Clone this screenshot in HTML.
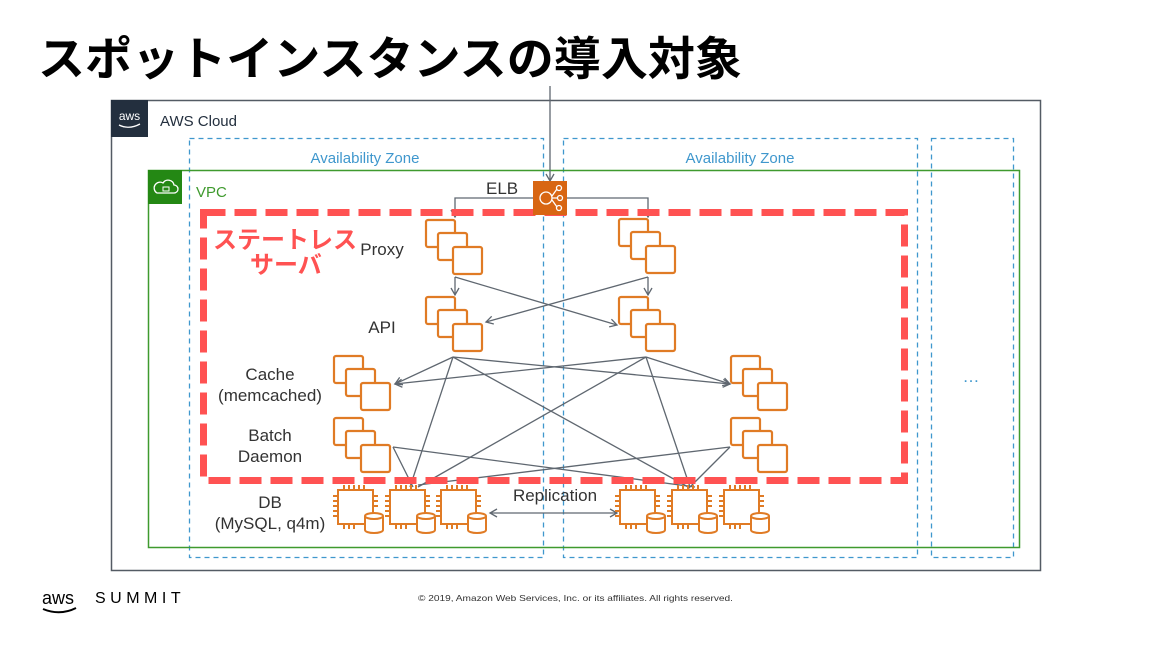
<!DOCTYPE html>
<html><head><meta charset="utf-8"><style>
body{margin:0;background:#fff;width:1152px;height:648px;overflow:hidden}
svg{display:block}
text{font-family:"Liberation Sans","Noto Sans CJK JP",sans-serif}
</style></head><body>
<svg width="1152" height="648" viewBox="0 0 1152 648" xmlns="http://www.w3.org/2000/svg">
<defs>
<marker id="ar" markerWidth="10" markerHeight="10" refX="8" refY="5" orient="auto" markerUnits="userSpaceOnUse">
<path d="M1,1 L8,5 L1,9" fill="none" stroke="#5f6770" stroke-width="1.3"/></marker>
<marker id="ars" markerWidth="10" markerHeight="10" refX="2" refY="5" orient="auto" markerUnits="userSpaceOnUse">
<path d="M9,1 L2,5 L9,9" fill="none" stroke="#5f6770" stroke-width="1.3"/></marker>
<g id="stk" fill="#fff" stroke="#e07b25" stroke-width="2.2">
<rect x="0" y="0" width="29" height="27" rx="2"/>
<rect x="12" y="13" width="29" height="27" rx="2"/>
<rect x="27" y="27" width="29" height="27" rx="2"/>
</g>
<g id="chip" fill="none" stroke="#e07b25" stroke-width="2">
<rect x="0" y="0" width="35" height="34" fill="#fff"/>
<path d="M6,0v-5M11,0v-5M16,0v-5M21,0v-5M26,0v-5M0,6h-5M0,11h-5M0,16h-5M0,21h-5M0,26h-5M35,6h5M35,11h5M35,16h5M6,34v5M11,34v5M16,34v5"/>
<path d="M27,26 v14 a9,3 0 0 0 18,0 v-14" fill="#fff"/>
<ellipse cx="36" cy="26" rx="9" ry="3" fill="#fff"/>
</g>
</defs>

<text x="38" y="75" font-size="46" font-weight="bold" fill="#000" textLength="704" lengthAdjust="spacingAndGlyphs">スポットインスタンスの導入対象</text>

<!-- AWS Cloud -->
<rect x="111.5" y="100.5" width="929" height="470" fill="none" stroke="#545b64" stroke-width="1.5"/>
<rect x="111" y="100" width="37" height="37" fill="#232f3e"/>
<text x="129.5" y="120" font-size="12" fill="#fff" text-anchor="middle">aws</text>
<path d="M119,125 q10,5 21,-1" stroke="#fff" fill="none" stroke-width="1.3"/>
<text x="160" y="126" font-size="15" fill="#232f3e">AWS Cloud</text>

<!-- AZ -->
<g fill="none" stroke="#3f97cd" stroke-width="1.3" stroke-dasharray="5,4">
<rect x="189.5" y="138.5" width="354" height="419"/>
<rect x="563.5" y="138.5" width="354" height="419"/>
<rect x="931.5" y="138.5" width="82" height="419"/>
</g>
<text x="365" y="163" font-size="15" fill="#3f97cd" text-anchor="middle">Availability Zone</text>
<text x="740" y="163" font-size="15" fill="#3f97cd" text-anchor="middle">Availability Zone</text>
<text x="971" y="382" font-size="17" fill="#3f97cd" text-anchor="middle">…</text>

<!-- VPC -->
<rect x="148.5" y="170.5" width="871" height="377" fill="none" stroke="#3f9a2e" stroke-width="1.5"/>
<rect x="148" y="170" width="34" height="34" fill="#248814"/>
<path d="M157,193 h17 a4,4 0 0 0 0,-8 a6,6 0 0 0 -11,-2 a4,4 0 0 0 -6,10z" fill="none" stroke="#fff" stroke-width="1.3"/>
<rect x="163" y="187" width="6" height="4" fill="none" stroke="#fff" stroke-width="1"/>
<text x="196" y="197" font-size="15" fill="#3f9a2e">VPC</text>

<!-- lines -->
<g stroke="#5f6770" stroke-width="1.3" fill="none">
<path d="M550,86 V181" marker-end="url(#ar)"/>
<path d="M533,198 H455 V217" marker-end="url(#ar)"/>
<path d="M567,198 H648 V217" marker-end="url(#ar)"/>
<path d="M455,277 V295" marker-end="url(#ar)"/>
<path d="M648,277 V295" marker-end="url(#ar)"/>
<path d="M455,277 L617,325" marker-end="url(#ar)"/>
<path d="M648,277 L486,322" marker-end="url(#ar)"/>
<path d="M453,357 L395,384" marker-end="url(#ar)"/>
<path d="M453,357 L730,384" marker-end="url(#ar)"/>
<path d="M646,357 L395,384" marker-end="url(#ar)"/>
<path d="M646,357 L730,384" marker-end="url(#ar)"/>
<path d="M453,357 L410,487"/>
<path d="M453,357 L690,488"/>
<path d="M646,357 L418,487"/>
<path d="M646,357 L690,487"/>
<path d="M393,447 L413,487"/>
<path d="M393,447 L695,487"/>
<path d="M730,447 L418,485"/>
<path d="M730,447 L690,487"/>
<path d="M490,513 H617" marker-start="url(#ars)" marker-end="url(#ar)"/>
</g>

<!-- red stateless -->
<rect x="203.5" y="212.5" width="701" height="268" fill="none" stroke="#ff5252" stroke-width="7" stroke-dasharray="22,9"/>
<text x="213" y="248" font-size="24" font-weight="bold" fill="#ff5252">ステートレス</text>
<text x="250" y="273" font-size="24" font-weight="bold" fill="#ff5252">サーバ</text>

<!-- ELB -->
<rect x="533" y="181" width="34" height="34" fill="#d86613"/>
<g stroke="#fff" fill="none" stroke-width="1.3">
<circle cx="546" cy="198" r="6"/><circle cx="559" cy="188" r="2.5"/><circle cx="560" cy="198" r="2.5"/><circle cx="559" cy="208" r="2.5"/>
<path d="M552,196 L557,189 M552,198 H558 M552,200 L557,207"/>
</g>
<text x="486" y="194" font-size="17" fill="#333">ELB</text>

<!-- stacks -->
<use href="#stk" x="426" y="220"/>
<use href="#stk" x="619" y="219"/>
<use href="#stk" x="426" y="297"/>
<use href="#stk" x="619" y="297"/>
<use href="#stk" x="334" y="356"/>
<use href="#stk" x="731" y="356"/>
<use href="#stk" x="334" y="418"/>
<use href="#stk" x="731" y="418"/>

<!-- DB chips -->
<use href="#chip" x="338" y="490"/>
<use href="#chip" x="390" y="490"/>
<use href="#chip" x="441" y="490"/>
<use href="#chip" x="620" y="490"/>
<use href="#chip" x="672" y="490"/>
<use href="#chip" x="724" y="490"/>

<g font-size="17" fill="#333" text-anchor="middle">
<text x="382" y="255">Proxy</text>
<text x="382" y="333">API</text>
<text x="270" y="380">Cache</text>
<text x="270" y="401">(memcached)</text>
<text x="270" y="441">Batch</text>
<text x="270" y="462">Daemon</text>
<text x="270" y="508">DB</text>
<text x="270" y="529">(MySQL, q4m)</text>
<text x="555" y="501">Replication</text>
</g>

<!-- footer -->
<text x="42" y="604" font-size="18" fill="#000">aws</text>
<path d="M43,609 q17,7 33,-1" stroke="#000" fill="none" stroke-width="2"/>
<text x="95" y="603" font-size="16" fill="#000" letter-spacing="4.5">SUMMIT</text>
<text x="418" y="601" font-size="8.5" fill="#333" textLength="315" lengthAdjust="spacingAndGlyphs">© 2019, Amazon Web Services, Inc. or its affiliates. All rights reserved.</text>
</svg>
</body></html>
